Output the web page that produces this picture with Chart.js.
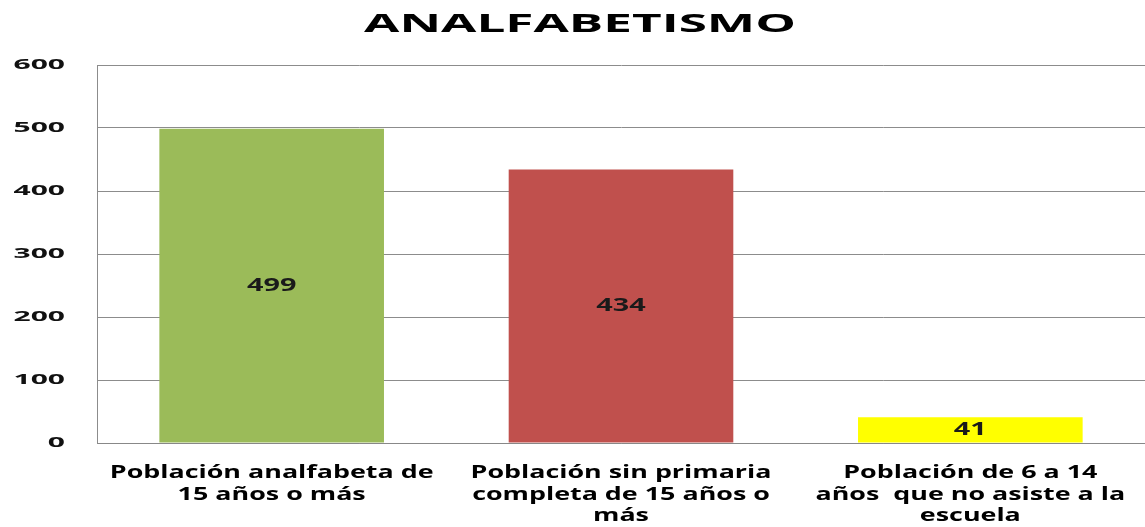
<!DOCTYPE html>
<html>
<head>
<meta charset="utf-8">
<script src="https://cdn.jsdelivr.net/npm/chart.js@4"></script>
<style>
    html, body { margin: 0; padding: 0; background: #fff; }
    #wrap { width: 1145px; height: 527px; }
</style>
</head>
<body>
<div id="wrap"><canvas id="chart"></canvas></div>
<script>
// Data
const chartTitle = 'ANALFABETISMO';
const categories = [
    ['Población analfabeta de', '15 años o más'],
    ['Población sin primaria', 'completa de 15 años o', 'más'],
    ['Población de 6 a 14', 'años  que no asiste a la', 'escuela']
];
const values = [499, 434, 41];
const barColors = ['#9BBB59', '#C0504D', '#FFFF00'];

// The original picture has wide, stretched lettering; emulate it by
// scaling each fillText horizontally around its anchor point
let textStretch = 1;

function patchContext(ctx) {
    if (ctx._stretchPatched) return;
    const fill = ctx.fillText;
    ctx.fillText = function(t, x, y) {
        if (textStretch === 1) return fill.call(this, t, x, y);
        this.save();
        this.translate(x, y);
        this.scale(textStretch, 1);
        fill.call(this, t, 0, 0);
        this.restore();
    };
    ctx._stretchPatched = true;
}

function wrapLabels(scale, factor) {
    if (scale._stretchWrapped) return;
    const orig = scale.drawLabels.bind(scale);
    scale.drawLabels = function(area) {
        textStretch = factor;
        orig(area);
        textStretch = 1;
    };
    scale._stretchWrapped = true;
}

const stretchText = {
    id: 'stretchText',
    beforeDraw(chart) {
        patchContext(chart.ctx);
        wrapLabels(chart.scales.x, 1.58);
        wrapLabels(chart.scales.y, 2.0);
    },
    afterDatasetsDraw(chart) {
        // value labels in the middle of each bar
        const ctx = chart.ctx;
        const meta = chart.getDatasetMeta(0);
        ctx.save();
        ctx.font = 'bold 18px "Open Sans"';
        ctx.fillStyle = '#1a1a1a';
        ctx.textAlign = 'center';
        ctx.textBaseline = 'middle';
        textStretch = 1.6;
        meta.data.forEach(function(bar, i) {
            ctx.fillText(String(values[i]), bar.x, (bar.y + bar.base) / 2);
        });
        textStretch = 1;
        ctx.restore();
    },
    afterDraw(chart) {
        // chart title
        const ctx = chart.ctx;
        ctx.save();
        ctx.font = 'bold 25px "Open Sans"';
        ctx.fillStyle = '#000';
        ctx.textAlign = 'center';
        ctx.textBaseline = 'middle';
        textStretch = 2.05;
        ctx.fillText(chartTitle, 580, 25);
        textStretch = 1;
        ctx.restore();
    }
};

const ctx = document.getElementById('chart').getContext('2d');

new Chart(ctx, {
    type: 'bar',
    data: {
        labels: categories,
        datasets: [{
            data: values,
            backgroundColor: barColors,
            borderWidth: 0,
            barPercentage: 0.643,
            categoryPercentage: 1
        }]
    },
    options: {
        responsive: true,
        maintainAspectRatio: false,
        animation: false,
        layout: {
            padding: { left: 0, right: 0, top: 65, bottom: 0 }
        },
        plugins: {
            legend: { display: false },
            tooltip: { enabled: false },
            title: { display: false }
        },
        scales: {
            x: {
                grid: { display: false, drawTicks: false },
                border: { color: '#888', width: 1 },
                afterFit: function(scale) { scale.height = 84; },
                ticks: {
                    color: '#000',
                    font: { family: 'Open Sans', size: 17, weight: 'bold', lineHeight: 1.25 },
                    padding: 20,
                    maxRotation: 0,
                    autoSkip: false
                }
            },
            y: {
                min: 0,
                max: 600,
                grid: { color: '#8c8c8c', drawTicks: false },
                border: { color: '#8c8c8c', width: 1 },
                afterFit: function(scale) { scale.width = 97; },
                ticks: {
                    stepSize: 100,
                    color: '#111',
                    font: { family: 'Open Sans', size: 15, weight: 'bold' },
                    padding: 32
                }
            }
        }
    },
    plugins: [stretchText]
});
</script>
</body>
</html>
